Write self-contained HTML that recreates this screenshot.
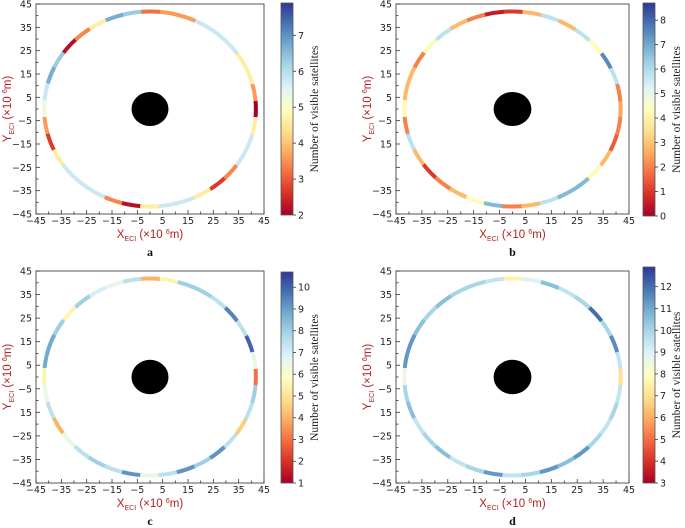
<!DOCTYPE html>
<html><head><meta charset="utf-8">
<style>
html,body{margin:0;padding:0;background:#fff;}
svg{display:block;}
.tk{font-family:"DejaVu Sans","Liberation Sans",sans-serif;font-size:9.5px;fill:#222;}
.al{font-family:"Liberation Sans",sans-serif;font-size:11.5px;fill:#b22222;}
.cl{font-family:"Liberation Serif",serif;font-size:11.5px;fill:#222;}
.pl{font-family:"Liberation Serif",serif;font-size:12px;font-weight:bold;fill:#111;}
</style></head>
<body>
<svg id="chart" width="685" height="528" viewBox="0 0 685 528" xmlns="http://www.w3.org/2000/svg">
<defs>
<linearGradient id="rdylbu" x1="0" y1="1" x2="0" y2="0">
<stop offset="0" stop-color="#a50026"/><stop offset="0.1" stop-color="#d73027"/>
<stop offset="0.2" stop-color="#f46d43"/><stop offset="0.3" stop-color="#fdae61"/>
<stop offset="0.4" stop-color="#fee090"/><stop offset="0.5" stop-color="#ffffbf"/>
<stop offset="0.6" stop-color="#e0f3f8"/><stop offset="0.7" stop-color="#abd9e9"/>
<stop offset="0.8" stop-color="#74add1"/><stop offset="0.9" stop-color="#4575b4"/>
<stop offset="1" stop-color="#313695"/>
</linearGradient>
</defs>
</svg>
<script>
// Ring segment values (segment i centered at angle 10*i degrees, counterclockwise from +X)
const segAngles = [0,10,20,30,40,50,60,70,80,90,100,110,120,130,140,150,160,170,180,190,200,210,220,230,240,250,260,270,280,290,300,310,320,330,340,350];
const valuesA = [2,3.6,4.6,4.6,5.8,5.8,5.8,3.6,3.6,3.2,6.3,6.7,4.6,3.4,2.2,6.3,6.7,5.8,5.3,3.6,2.7,4.6,5.8,5.8,5.8,3.4,2.2,4.6,5.8,5.8,4.6,2.7,3.4,5.8,5.8,4.6];
const valuesB = [2.5,2,5.8,7.5,4.2,5.8,2.8,5.8,2.8,1,0.5,2,2.8,5.8,4.2,2,2.8,2.8,4.2,2,5.8,2.8,1,2,2.8,4.2,6.7,2,2.8,5.8,6.7,6.7,4.2,2.8,1.5,2];
const valuesC = [3,6.5,10,7.5,9.5,7.5,8,8,5.5,4,7.5,6.5,7,8,5.5,8,8.8,8.8,5.5,6.5,7.5,4,6.5,7.5,8,7.5,9.2,6.5,7.5,9.2,8,9.2,7.5,4.5,7.5,8];
const valuesD = [7,9.5,11.5,10,12,10,9.5,10.5,9,7.5,9.5,10,10,10.5,10,10.5,11.3,11.3,8.5,10,10.5,9.5,10,10.5,9.5,10,11.3,9.5,10,11.3,10.5,11.3,10,9.5,10,9.5];
const xTicks = [-45,-35,-25,-15,-5,5,15,25,35,45];
const yTicks = [45,35,25,15,5,-5,-15,-25,-35,-45];
const yLabelsA = ["45","35","25","15","5","\u22125","\u221215","\u221225","\u221235","\u221245"];
const yLabelsB = ["45","35","25","15","5","\u22125","15","","\u221235","\u221245"];
const yLabelsCD = ["45","35","25","15","5","\u22125","15","\u221225","\u221235","\u221245"];
const cbarTicksA = [2,3,4,5,6,7];
const cbarTicksB = [0,1,2,3,4,5,6,7,8];
const cbarTicksC = [1,2,3,4,5,6,7,8,9,10];
const cbarTicksD = [3,4,5,6,7,8,9,10,11,12];
const ringRadius = 41.8, earthRadius = 7.3;

const NS="http://www.w3.org/2000/svg";
const svg=document.getElementById('chart');
function mk(tag,attrs,parent){const e=document.createElementNS(NS,tag);for(const k in attrs)e.setAttribute(k,attrs[k]);(parent||svg).appendChild(e);return e;}
const stops=[[0,[165,0,38]],[0.1,[215,48,39]],[0.2,[244,109,67]],[0.3,[253,174,97]],[0.4,[254,224,144]],[0.5,[255,255,191]],[0.6,[224,243,248]],[0.7,[171,217,233]],[0.8,[116,173,209]],[0.9,[69,117,180]],[1,[49,54,149]]];
function cmap(t){t=Math.max(0,Math.min(1,t));for(let i=1;i<stops.length;i++){if(t<=stops[i][0]){const a=stops[i-1],b=stops[i];const f=(t-a[0])/(b[0]-a[0]);const c=a[1].map((v,j)=>Math.round(v+(b[1][j]-v)*f));return `rgb(${c[0]},${c[1]},${c[2]})`;}}return 'rgb(49,54,149)';}

function panel(p){
  const g=mk('g',{});
  
  
  const {x0,x1,y0,y1}=p;
  const sx=v=>x0+(v+45)/90*(x1-x0);
  const sy=v=>y1-(v+45)/90*(y1-y0);
  const kx=(x1-x0)/90, ky=(y1-y0)/90;
  const ring=mk('g',{},g);
  
  
  segAngles.forEach((ang,i)=>{
    const a0=(ang-5.3)*Math.PI/180,a1=(ang+5.3)*Math.PI/180;
    const xa=sx(ringRadius*Math.cos(a0)),ya=sy(ringRadius*Math.sin(a0));
    const xb=sx(ringRadius*Math.cos(a1)),yb=sy(ringRadius*Math.sin(a1));
    const s=mk('path',{d:`M${xa},${ya} A${ringRadius*kx},${ringRadius*ky} 0 0 0 ${xb},${yb}`,fill:'none',stroke:cmap((p.vals[i]-p.vmin)/(p.vmax-p.vmin)),'stroke-width':4},ring);
    
    
  });
  const earth=mk('ellipse',{cx:sx(0),cy:sy(0),rx:earthRadius*kx,ry:earthRadius*ky,fill:'#000'},g);
  
  
  const frame=mk('rect',{x:x0,y:y0,width:x1-x0,height:y1-y0,fill:'none',stroke:'#555','stroke-width':1},g);
  
  
  for(let v=-45;v<=45;v+=5){
    const major=xTicks.includes(v), len=major?4:2.5;
    mk('line',{x1:sx(v),x2:sx(v),y1:y1,y2:y1-len,stroke:'#333','stroke-width':0.8},g);
    mk('line',{x1:x0,x2:x0+len,y1:sy(v),y2:sy(v),stroke:'#333','stroke-width':0.8},g);
  }
  xTicks.forEach(v=>{const t=mk('text',{x:sx(v),y:y1+10,'text-anchor':'middle',class:'tk'},g);t.textContent=(v<0?'\u2212':'')+Math.abs(v);
    });
  yTicks.forEach((v,i)=>{const t=mk('text',{x:x0-4,y:sy(v)+3.5,'text-anchor':'end',class:'tk'},g);t.textContent=p.ylab[i];
    });
  const xt=mk('text',{x:(x0+x1)/2,y:y1+24,'text-anchor':'middle',class:'al'},g);
  xt.innerHTML='X<tspan font-size="7" dy="3">ECI</tspan><tspan dy="-3"> (×10 </tspan><tspan font-size="7" dy="-4">6</tspan><tspan dy="4">m)</tspan>';
  
  const yt=mk('text',{x:0,y:0,'text-anchor':'middle',class:'al',transform:`translate(${x0-25},${(y0+y1)/2}) rotate(-90)`},g);
  yt.innerHTML='Y<tspan font-size="7" dy="3">ECI</tspan><tspan dy="-3"> (×10 </tspan><tspan font-size="7" dy="-4">6</tspan><tspan dy="4">m)</tspan>';
  
  const pl=mk('text',{x:(x0+x1)/2,y:y1+42,'text-anchor':'middle',class:'pl'},g);pl.textContent=p.letter;
  
  const cb=mk('g',{},g);
  
  
  const {cx,cy0,cy1}=p, cw=12;
  mk('rect',{x:cx,y:cy0,width:cw,height:cy1-cy0,fill:'url(#rdylbu)',stroke:'#555','stroke-width':0.8},cb);
  p.cticks.forEach(v=>{const y=cy1-(v-p.vmin)/(p.vmax-p.vmin)*(cy1-cy0);
    mk('line',{x1:cx+cw,x2:cx+cw+3,y1:y,y2:y,stroke:'#333','stroke-width':0.8},cb);
    const t=mk('text',{x:cx+cw+5,y:y+3.5,class:'tk'},cb);t.textContent=v;
    });
  const ct=mk('text',{x:0,y:0,'text-anchor':'middle',class:'cl',transform:`translate(${cx+cw+25},${(cy0+cy1)/2}) rotate(-90)`},cb);
  ct.textContent='Number of visible satellites';
  
}
panel({letter:'a',x0:36,x1:264,y0:4,y1:214,vals:valuesA,vmin:2,vmax:7.9,cticks:cbarTicksA,ylab:yLabelsA,cx:281,cy0:3,cy1:215});
panel({letter:'b',x0:396,x1:629,y0:4,y1:214,vals:valuesB,vmin:0,vmax:8.7,cticks:cbarTicksB,ylab:yLabelsB,cx:643,cy0:3,cy1:216});
panel({letter:'c',x0:36,x1:264,y0:271,y1:483,vals:valuesC,vmin:1,vmax:10.7,cticks:cbarTicksC,ylab:yLabelsCD,cx:281,cy0:272,cy1:483});
panel({letter:'d',x0:396,x1:629,y0:271,y1:483,vals:valuesD,vmin:3,vmax:12.9,cticks:cbarTicksD,ylab:yLabelsCD,cx:643,cy0:267,cy1:483});
</script>
</body></html>
